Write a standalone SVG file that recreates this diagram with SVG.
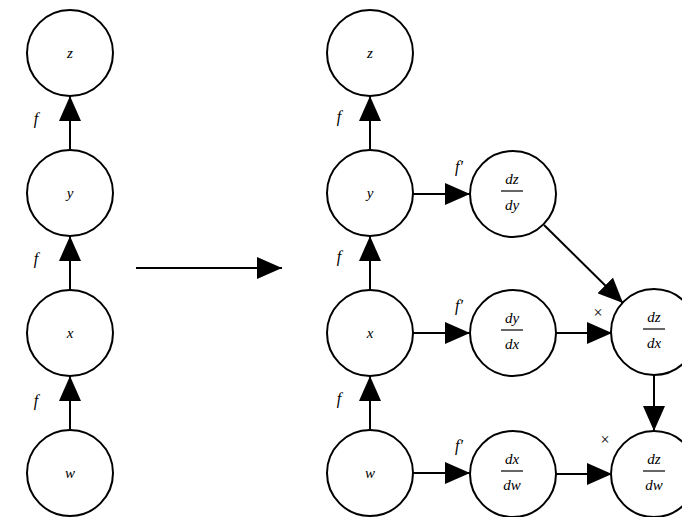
<svg xmlns="http://www.w3.org/2000/svg" width="682" height="517" viewBox="0 0 682 517">
<defs>
<marker id="ah" viewBox="0 0 25 22" refX="25" refY="11" markerWidth="25" markerHeight="22" markerUnits="userSpaceOnUse" orient="auto">
<path d="M0,0 L25,11 L0,22 Z" fill="#000"/>
</marker>
</defs>
<style>
.n circle{fill:#fff;stroke:#000;stroke-width:2}
.n text,.lab{font-family:"Liberation Serif","DejaVu Serif",serif;font-style:italic;font-size:15px;text-anchor:middle;fill:#000}
.n line{stroke:#000;stroke-width:1.2}
.c line{stroke:#000;stroke-width:2;marker-end:url(#ah)}
.lab{font-size:16px}
</style>
<rect width="682" height="517" fill="#fff"/>
<g class="c" id="connectors">
<line x1="70" y1="150" x2="70" y2="96"/>
<line x1="70" y1="290" x2="70" y2="236"/>
<line x1="70" y1="430" x2="70" y2="376"/>
<line x1="136" y1="268" x2="282" y2="268"/>
<line x1="370" y1="150" x2="370" y2="96"/>
<line x1="370" y1="290" x2="370" y2="236"/>
<line x1="370" y1="430" x2="370" y2="376"/>
<line x1="413" y1="194" x2="470" y2="194"/>
<line x1="413" y1="333" x2="470" y2="333"/>
<line x1="413" y1="473" x2="470" y2="473"/>
<line x1="556" y1="333" x2="612" y2="333"/>
<line x1="556" y1="474" x2="612" y2="474"/>
<line x1="544" y1="225" x2="623" y2="303"/>
<line x1="654" y1="375" x2="654" y2="431"/>
</g>
<g id="labels">
<text class="lab" x="36" y="124">f</text>
<text class="lab" x="36" y="264">f</text>
<text class="lab" x="36" y="406">f</text>
<text class="lab" x="339" y="122">f</text>
<text class="lab" x="339" y="262">f</text>
<text class="lab" x="339" y="404">f</text>
<text class="lab" x="459" y="172">f′</text>
<text class="lab" x="459" y="311">f′</text>
<text class="lab" x="459" y="451">f′</text>
<text class="lab" x="598" y="318" style="font-style:normal">×</text>
<text class="lab" x="605" y="445" style="font-style:normal">×</text>
</g>
<g class="n" id="n-z"><circle cx="70" cy="53" r="43"/><text x="70" y="58">z</text></g>
<g class="n" id="n-y"><circle cx="70" cy="193" r="43"/><text x="70" y="198">y</text></g>
<g class="n" id="n-x"><circle cx="70" cy="333" r="43"/><text x="70" y="338">x</text></g>
<g class="n" id="n-w"><circle cx="70" cy="473" r="43"/><text x="70" y="478">w</text></g>
<g class="n" id="m-z"><circle cx="370" cy="53" r="43"/><text x="370" y="58">z</text></g>
<g class="n" id="m-y"><circle cx="370" cy="193" r="43"/><text x="370" y="198">y</text></g>
<g class="n" id="m-x"><circle cx="370" cy="333" r="43"/><text x="370" y="338">x</text></g>
<g class="n" id="m-w"><circle cx="370" cy="473" r="43"/><text x="370" y="478">w</text></g>
<g class="n" id="dzdy"><circle cx="513" cy="194" r="43"/><text x="512" y="184">dz</text><line x1="501" y1="191" x2="523" y2="191"/><text x="512" y="210">dy</text></g>
<g class="n" id="dydx"><circle cx="513" cy="333" r="43"/><text x="512" y="323">dy</text><line x1="501" y1="330" x2="523" y2="330"/><text x="512" y="349">dx</text></g>
<g class="n" id="dxdw"><circle cx="513" cy="474" r="43"/><text x="512" y="464">dx</text><line x1="501" y1="471" x2="523" y2="471"/><text x="512" y="490">dw</text></g>
<g class="n" id="dzdx"><circle cx="654" cy="332" r="43"/><text x="654" y="322">dz</text><line x1="643" y1="329" x2="665" y2="329"/><text x="654" y="348">dx</text></g>
<g class="n" id="dzdw"><circle cx="654" cy="474" r="43"/><text x="654" y="464">dz</text><line x1="643" y1="471" x2="665" y2="471"/><text x="654" y="490">dw</text></g>
</svg>
